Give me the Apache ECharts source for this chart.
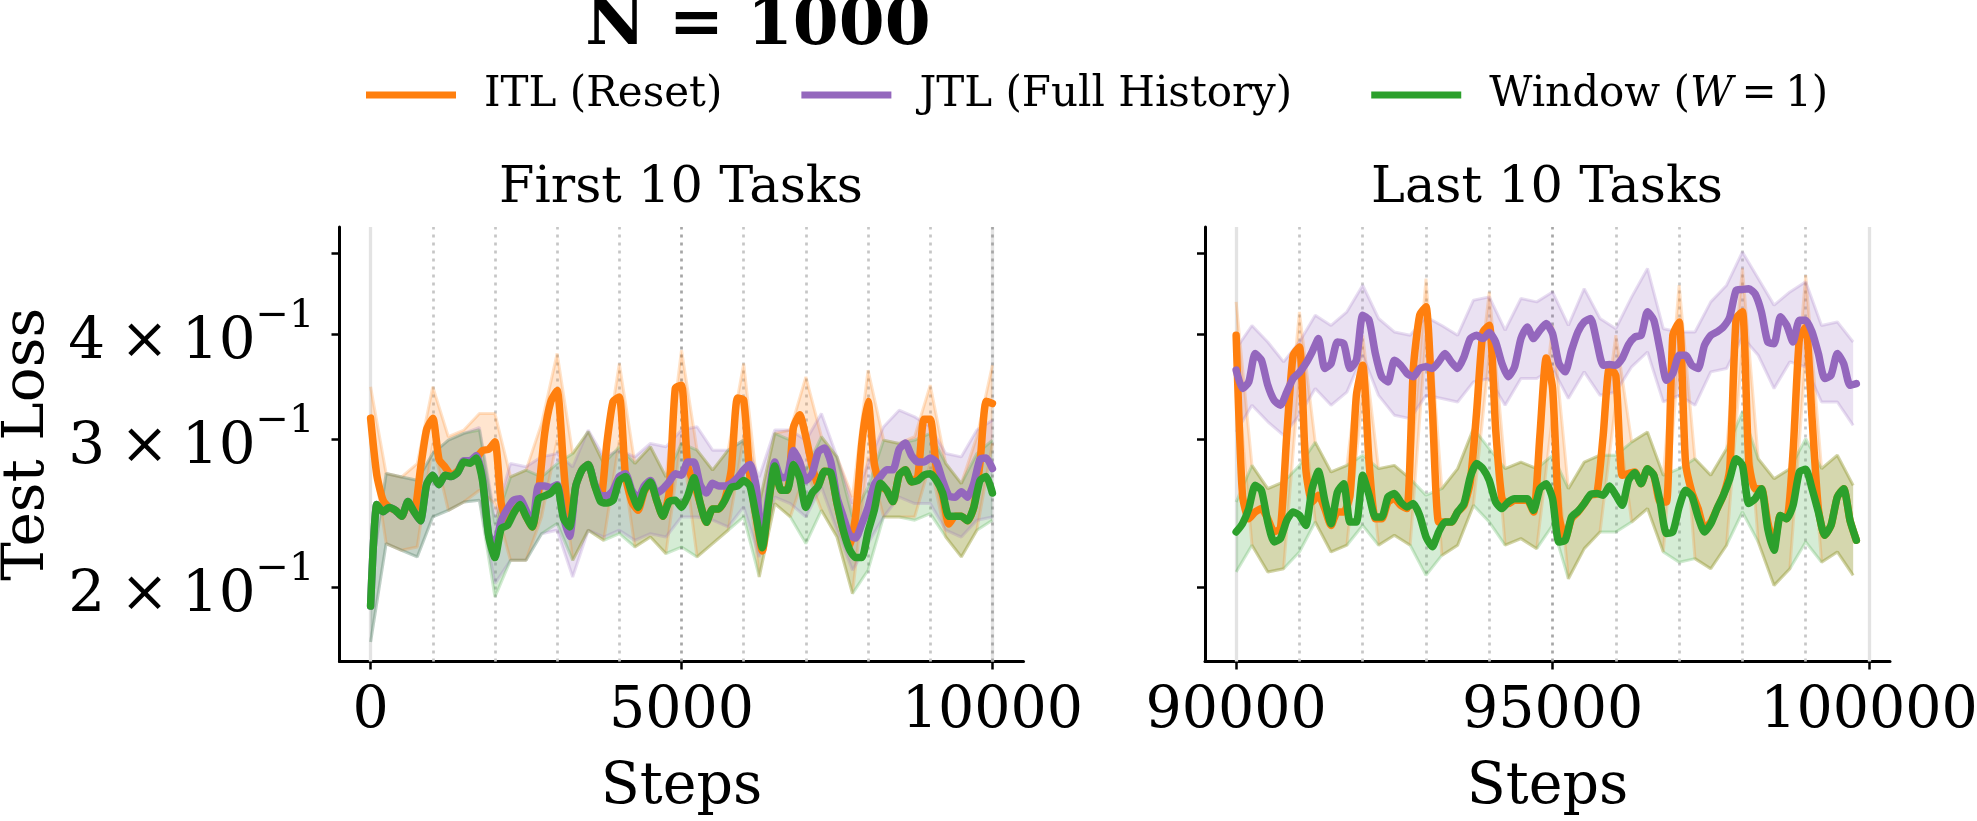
<!DOCTYPE html>
<html>
<head>
<meta charset="utf-8">
<script src="https://cdn.jsdelivr.net/npm/echarts@6/dist/echarts.min.js"></script>
<style>
  html, body { margin: 0; padding: 0; background: #fff; }
  #chart { width: 1977px; height: 821px; }
</style>
</head>
<body>
<div id="chart"></div>
<script>
// sample grids (steps)
var firstStart = 0, lastStart = 90000, lineGap = 100, bandGap = 250

// ---- First 10 Tasks: mean curves, one value every 100 steps ----
var itlFirst = [
  0.318, 0.272, 0.254, 0.249, 0.247, 0.243, 0.252, 0.246, 0.276, 0.308,
  0.318, 0.284, 0.278, 0.272, 0.275, 0.282, 0.282, 0.285, 0.291, 0.292,
  0.298, 0.252, 0.239, 0.246, 0.251, 0.243, 0.236, 0.259, 0.305, 0.333,
  0.343, 0.281, 0.236, 0.264, 0.276, 0.280, 0.265, 0.255, 0.297, 0.333,
  0.337, 0.271, 0.253, 0.247, 0.260, 0.267, 0.254, 0.243, 0.259, 0.345,
  0.348, 0.279, 0.266, 0.252, 0.239, 0.248, 0.248, 0.255, 0.276, 0.336,
  0.334, 0.271, 0.243, 0.221, 0.252, 0.279, 0.261, 0.261, 0.310, 0.321,
  0.302, 0.279, 0.265, 0.275, 0.274, 0.252, 0.234, 0.224, 0.243, 0.297,
  0.333, 0.281, 0.264, 0.261, 0.253, 0.272, 0.276, 0.267, 0.271, 0.317,
  0.317, 0.276, 0.257, 0.238, 0.243, 0.243, 0.240, 0.249, 0.281, 0.333,
  0.331
]
var jtlFirst = [
  0.190, 0.251, 0.246, 0.249, 0.247, 0.243, 0.253, 0.246, 0.240, 0.265,
  0.272, 0.265, 0.272, 0.271, 0.274, 0.283, 0.283, 0.287, 0.270, 0.231,
  0.225, 0.240, 0.248, 0.254, 0.255, 0.247, 0.237, 0.264, 0.264, 0.263,
  0.265, 0.243, 0.230, 0.264, 0.276, 0.280, 0.266, 0.257, 0.257, 0.261,
  0.271, 0.273, 0.261, 0.255, 0.264, 0.268, 0.259, 0.262, 0.267, 0.273,
  0.272, 0.282, 0.282, 0.265, 0.259, 0.266, 0.264, 0.264, 0.266, 0.270,
  0.276, 0.280, 0.264, 0.226, 0.256, 0.282, 0.270, 0.271, 0.291, 0.282,
  0.268, 0.273, 0.290, 0.293, 0.282, 0.256, 0.243, 0.231, 0.229, 0.238,
  0.249, 0.265, 0.271, 0.276, 0.276, 0.292, 0.297, 0.287, 0.282, 0.282,
  0.285, 0.282, 0.268, 0.257, 0.256, 0.260, 0.256, 0.266, 0.284, 0.285,
  0.277
]
var winFirst = [
  0.190, 0.251, 0.246, 0.249, 0.247, 0.243, 0.253, 0.246, 0.240, 0.265,
  0.272, 0.265, 0.272, 0.271, 0.274, 0.282, 0.281, 0.285, 0.268, 0.230,
  0.217, 0.235, 0.237, 0.245, 0.251, 0.243, 0.236, 0.255, 0.257, 0.259,
  0.264, 0.242, 0.236, 0.264, 0.276, 0.280, 0.265, 0.253, 0.252, 0.254,
  0.268, 0.271, 0.259, 0.249, 0.261, 0.267, 0.254, 0.243, 0.253, 0.254,
  0.249, 0.257, 0.270, 0.252, 0.239, 0.248, 0.248, 0.254, 0.263, 0.264,
  0.268, 0.264, 0.243, 0.223, 0.252, 0.279, 0.261, 0.261, 0.280, 0.270,
  0.249, 0.259, 0.264, 0.275, 0.274, 0.252, 0.234, 0.222, 0.217, 0.217,
  0.233, 0.247, 0.266, 0.261, 0.253, 0.272, 0.276, 0.267, 0.268, 0.272,
  0.273, 0.268, 0.259, 0.243, 0.243, 0.243, 0.240, 0.249, 0.268, 0.271,
  0.259
]

// ---- First 10 Tasks: shaded bands, one value every 250 steps ----
var itlFirstLo = [0.2994, 0.2255, 0.2214, 0.2234, 0.2967, 0.2470, 0.2527, 0.2610, 0.2516, 0.2154, 0.2154, 0.2426, 0.2994, 0.2154, 0.2339, 0.2275, 0.2994, 0.2234, 0.2296, 0.2194, 0.3022, 0.2174, 0.2255, 0.2339, 0.3022, 0.2058, 0.2516, 0.2426, 0.2758, 0.2470, 0.2296, 0.1966, 0.2860, 0.2426, 0.2426, 0.2426, 0.2808, 0.2296, 0.2174, 0.2339, 0.2967]
var itlFirstHi = [0.3465, 0.2732, 0.2707, 0.2808, 0.3465, 0.3022, 0.3078, 0.3220, 0.3220, 0.2707, 0.2758, 0.3134, 0.3797, 0.2886, 0.3064, 0.2808, 0.3694, 0.2808, 0.2940, 0.2707, 0.3832, 0.2913, 0.2758, 0.2913, 0.3694, 0.2516, 0.3050, 0.3078, 0.3561, 0.3022, 0.2860, 0.2562, 0.3627, 0.2994, 0.2967, 0.3022, 0.3481, 0.2808, 0.2658, 0.3022, 0.3677]
var jtlFirstLo = [0.1722, 0.2255, 0.2214, 0.2174, 0.2426, 0.2470, 0.2527, 0.2539, 0.2021, 0.2154, 0.2154, 0.2317, 0.2339, 0.2058, 0.2339, 0.2296, 0.2339, 0.2275, 0.2317, 0.2296, 0.2426, 0.2426, 0.2404, 0.2360, 0.2494, 0.2174, 0.2562, 0.2516, 0.2426, 0.2634, 0.2339, 0.2096, 0.2255, 0.2426, 0.2562, 0.2516, 0.2516, 0.2339, 0.2296, 0.2404, 0.2426]
var jtlFirstHi = [0.2039, 0.2732, 0.2707, 0.2683, 0.2886, 0.2994, 0.3050, 0.3100, 0.2426, 0.2808, 0.2783, 0.2860, 0.2886, 0.2783, 0.3078, 0.2860, 0.2913, 0.2860, 0.2967, 0.2940, 0.3078, 0.3106, 0.2913, 0.2913, 0.2994, 0.2707, 0.3078, 0.3078, 0.2994, 0.3220, 0.2860, 0.2516, 0.2808, 0.3106, 0.3250, 0.3191, 0.3106, 0.2886, 0.2860, 0.3078, 0.3162]
var winFirstLo = [0.1722, 0.2255, 0.2214, 0.2174, 0.2426, 0.2470, 0.2527, 0.2539, 0.1948, 0.2154, 0.2154, 0.2317, 0.2382, 0.2154, 0.2339, 0.2275, 0.2317, 0.2234, 0.2296, 0.2194, 0.2234, 0.2174, 0.2255, 0.2339, 0.2426, 0.2058, 0.2516, 0.2426, 0.2255, 0.2470, 0.2296, 0.1966, 0.2096, 0.2426, 0.2426, 0.2404, 0.2448, 0.2296, 0.2174, 0.2339, 0.2404]
var winFirstHi = [0.2039, 0.2732, 0.2707, 0.2683, 0.2886, 0.2994, 0.3050, 0.3078, 0.2382, 0.2707, 0.2758, 0.2707, 0.2808, 0.2886, 0.3064, 0.2808, 0.2940, 0.2808, 0.2940, 0.2707, 0.2967, 0.2913, 0.2758, 0.2913, 0.2994, 0.2516, 0.3050, 0.2994, 0.2758, 0.3022, 0.2860, 0.2426, 0.2634, 0.2994, 0.2967, 0.2994, 0.3050, 0.2808, 0.2658, 0.2886, 0.2994]

// ---- Last 10 Tasks: mean curves, one value every 100 steps from 90000 ----
var itlLast = [
  0.3990, 0.2575, 0.2414, 0.2459, 0.2482, 0.2414, 0.2330, 0.2350, 0.3034, 0.3777,
  0.3865, 0.2769, 0.2527, 0.2575, 0.2482, 0.2370, 0.2459, 0.2459, 0.2575, 0.3385,
  0.3676, 0.2819, 0.2414, 0.2414, 0.2527, 0.2550, 0.2504, 0.2482, 0.3643, 0.4216,
  0.4316, 0.3264, 0.2392, 0.2392, 0.2392, 0.2459, 0.2504, 0.2670, 0.3235, 0.4027,
  0.4101, 0.3090, 0.2550, 0.2516, 0.2539, 0.2539, 0.2539, 0.2459, 0.3034, 0.3750,
  0.3450, 0.2436, 0.2286, 0.2414, 0.2459, 0.2516, 0.2575, 0.2586, 0.3034, 0.3660,
  0.3570, 0.2719, 0.2732, 0.2744, 0.2657, 0.2769, 0.2719, 0.2527, 0.2527, 0.3990,
  0.4139, 0.2819, 0.2597, 0.2482, 0.2349, 0.2392, 0.2482, 0.2575, 0.2769, 0.4178,
  0.4255, 0.2819, 0.2621, 0.2621, 0.2392, 0.2244, 0.2436, 0.2414, 0.2898, 0.3954,
  0.4083, 0.3176, 0.2482, 0.2307, 0.2370, 0.2563, 0.2621, 0.2403, 0.2276
]
var jtlLast = [
  0.3627, 0.3449, 0.3512, 0.3795, 0.3727, 0.3480, 0.3339, 0.3294, 0.3415, 0.3545,
  0.3604, 0.3693, 0.3812, 0.3954, 0.3643, 0.3693, 0.3918, 0.3900, 0.3643, 0.3727,
  0.4216, 0.4159, 0.3795, 0.3561, 0.3512, 0.3727, 0.3676, 0.3594, 0.3561, 0.3643,
  0.3660, 0.3643, 0.3710, 0.3795, 0.3710, 0.3643, 0.3761, 0.3954, 0.3990, 0.3954,
  0.4020, 0.3918, 0.3693, 0.3561, 0.3660, 0.3954, 0.4083, 0.3954, 0.4046, 0.4120,
  0.4008, 0.3693, 0.3610, 0.3830, 0.4027, 0.4139, 0.4178, 0.3918, 0.3676, 0.3683,
  0.3676, 0.3744, 0.3889, 0.3972, 0.3990, 0.4255, 0.4159, 0.3830, 0.3528, 0.3594,
  0.3778, 0.3778, 0.3676, 0.3643, 0.3882, 0.3990, 0.4027, 0.4083, 0.4197, 0.4513,
  0.4525, 0.4533, 0.4470, 0.4255, 0.3918, 0.3900, 0.4197, 0.4101, 0.3918, 0.4159,
  0.4159, 0.4027, 0.3795, 0.3545, 0.3577, 0.3795, 0.3693, 0.3480, 0.3496
]
var winLast = [
  0.2328, 0.2381, 0.2482, 0.2645, 0.2609, 0.2392, 0.2265, 0.2286, 0.2403, 0.2459,
  0.2436, 0.2370, 0.2621, 0.2749, 0.2539, 0.2381, 0.2597, 0.2657, 0.2392, 0.2392,
  0.2719, 0.2575, 0.2425, 0.2425, 0.2563, 0.2586, 0.2527, 0.2493, 0.2516, 0.2436,
  0.2297, 0.2235, 0.2328, 0.2392, 0.2392, 0.2459, 0.2516, 0.2707, 0.2808, 0.2769,
  0.2682, 0.2527, 0.2482, 0.2527, 0.2550, 0.2550, 0.2550, 0.2470, 0.2621, 0.2657,
  0.2550, 0.2265, 0.2276, 0.2425, 0.2463, 0.2516, 0.2580, 0.2586, 0.2575, 0.2640,
  0.2575, 0.2504, 0.2682, 0.2738, 0.2657, 0.2769, 0.2719, 0.2527, 0.2318, 0.2328,
  0.2493, 0.2609, 0.2570, 0.2425, 0.2328, 0.2381, 0.2482, 0.2575, 0.2694, 0.2845,
  0.2794, 0.2516, 0.2550, 0.2621, 0.2349, 0.2214, 0.2436, 0.2414, 0.2504, 0.2744,
  0.2764, 0.2621, 0.2459, 0.2307, 0.2370, 0.2563, 0.2621, 0.2403, 0.2276
]

// ---- Last 10 Tasks: shaded bands, one value every 250 steps from 90000 ----
var itlLastLo = [0.3710, 0.2245, 0.2086, 0.2105, 0.3577, 0.2392, 0.2204, 0.2245, 0.3385, 0.2245, 0.2307, 0.2245, 0.3990, 0.2183, 0.2245, 0.2504, 0.3778, 0.2245, 0.2286, 0.2224, 0.3200, 0.2048, 0.2224, 0.2328, 0.3324, 0.2392, 0.2482, 0.2204, 0.3812, 0.2164, 0.2105, 0.2245, 0.3882, 0.2265, 0.2011, 0.2105, 0.3778, 0.2143, 0.2204, 0.2067]
var itlLastHi = [0.4373, 0.2794, 0.2621, 0.2670, 0.4255, 0.2978, 0.2744, 0.2794, 0.3990, 0.2769, 0.2794, 0.2694, 0.4662, 0.2621, 0.2769, 0.3090, 0.4494, 0.2769, 0.2819, 0.2769, 0.4100, 0.2621, 0.2819, 0.2873, 0.3990, 0.2978, 0.3062, 0.2719, 0.4577, 0.2845, 0.2719, 0.2925, 0.4792, 0.2845, 0.2694, 0.2769, 0.4705, 0.2769, 0.2873, 0.2645]
var jtlLastLo = [0.3062, 0.3294, 0.3148, 0.3034, 0.3206, 0.3449, 0.3294, 0.3415, 0.3778, 0.3385, 0.3206, 0.3176, 0.3385, 0.3355, 0.3324, 0.3512, 0.3545, 0.3294, 0.3545, 0.3545, 0.3643, 0.3355, 0.3610, 0.3385, 0.3415, 0.3660, 0.3812, 0.3324, 0.3385, 0.3294, 0.3610, 0.3643, 0.3972, 0.3778, 0.3449, 0.3710, 0.3660, 0.3324, 0.3324, 0.3118]
var jtlLastHi = [0.3848, 0.4099, 0.3918, 0.3710, 0.3918, 0.4216, 0.4099, 0.4255, 0.4577, 0.4178, 0.4027, 0.3990, 0.4197, 0.4099, 0.3990, 0.4393, 0.4433, 0.4046, 0.4413, 0.4373, 0.4494, 0.4099, 0.4535, 0.4178, 0.4063, 0.4433, 0.4792, 0.4063, 0.4027, 0.4027, 0.4373, 0.4577, 0.5014, 0.4662, 0.4334, 0.4494, 0.4621, 0.4099, 0.4139, 0.3918]
var winLastLo = [0.2086, 0.2245, 0.2086, 0.2105, 0.2204, 0.2392, 0.2204, 0.2245, 0.2370, 0.2245, 0.2307, 0.2245, 0.2067, 0.2183, 0.2245, 0.2504, 0.2392, 0.2245, 0.2286, 0.2224, 0.2370, 0.2048, 0.2224, 0.2328, 0.2328, 0.2392, 0.2482, 0.2204, 0.2143, 0.2164, 0.2105, 0.2245, 0.2459, 0.2265, 0.2011, 0.2105, 0.2265, 0.2143, 0.2204, 0.2067]
var winLastHi = [0.2527, 0.2794, 0.2621, 0.2670, 0.2794, 0.2978, 0.2744, 0.2794, 0.2873, 0.2769, 0.2794, 0.2694, 0.2575, 0.2621, 0.2769, 0.3090, 0.2925, 0.2769, 0.2819, 0.2769, 0.2873, 0.2621, 0.2819, 0.2873, 0.2873, 0.2978, 0.3062, 0.2719, 0.2769, 0.2845, 0.2719, 0.2925, 0.3235, 0.2845, 0.2694, 0.2769, 0.3006, 0.2769, 0.2873, 0.2645]

// ---- axes ----
var yTicks = [0.2, 0.3, 0.4, 0.5]
var yTickMant = ['2', '3', '4', '']
var xTicksFirst = [0, 5000, 10000]
var xTicksLast = [90000, 95000, 100000]
var tasksFirst = [1000, 2000, 3000, 4000, 6000, 7000, 8000, 9000]
var tasksLast = [91000, 92000, 93000, 94000, 96000, 97000, 98000, 99000]
var midFirst = [5000, 10000], midLast = [95000]
var phaseFirst = [0, 10000], phaseLast = [90000, 100000]

var seriesNames = ['ITL (Reset)', 'JTL (Full History)', 'Window (W = 1)']
var colors = ['#ff7f0e', '#9467bd', '#2ca02c']
var fills = ['rgba(255,127,14,0.2)', 'rgba(148,103,189,0.2)', 'rgba(44,160,44,0.2)']
var font = 'DejaVu Serif'

// log axis done by hand so 2,3,4 x 10^-1 can be placed as ticks
function ly(v) { return Math.log10(v * 10) }
var yMin = ly(0.16325), yMax = ly(0.53685)

function pairs(start, gap, arr) {
  return arr.map(function (v, i) { return [start + i * gap, ly(v)] })
}

function bandFill(gi, start, lo, hi, color) {
  return {
    type: 'custom', xAxisIndex: gi, yAxisIndex: gi, silent: true, z: 2,
    data: [[start, ly(lo[0])]],
    renderItem: function (params, api) {
      var pts = []
      for (var i = 0; i < hi.length; i++) pts.push(api.coord([start + i * bandGap, ly(hi[i])]))
      for (var j = lo.length - 1; j >= 0; j--) pts.push(api.coord([start + j * bandGap, ly(lo[j])]))
      return { type: 'polygon', shape: { points: pts }, style: { fill: color } }
    }
  }
}

function bandEdge(gi, start, arr, color) {
  return {
    type: 'line', xAxisIndex: gi, yAxisIndex: gi, silent: true, z: 2,
    symbol: 'none', data: pairs(start, bandGap, arr),
    lineStyle: { color: color, width: 3, opacity: 0.22 }
  }
}

function mainLine(gi, idx, start, arr) {
  return {
    name: seriesNames[idx], type: 'line', xAxisIndex: gi, yAxisIndex: gi, z: 4,
    symbol: 'none', smooth: 0.2, data: pairs(start, lineGap, arr),
    itemStyle: { color: colors[idx] },
    lineStyle: { color: colors[idx], width: 7.5, join: 'round', cap: 'round' }
  }
}

function vLines(gi, tasks, mids, phases) {
  var data = []
  phases.forEach(function (x) { data.push({ xAxis: x, lineStyle: { color: '#e3e3e3', width: 3.3, type: 'solid' } }) })
  tasks.forEach(function (x) { data.push({ xAxis: x, lineStyle: { color: '#c6c6c6', width: 2.7, type: [3, 5] } }) })
  mids.forEach(function (x) { data.push({ xAxis: x, lineStyle: { color: '#a6a6a6', width: 2.7, type: [3, 5] } }) })
  return {
    type: 'line', xAxisIndex: gi, yAxisIndex: gi, data: [], z: 1, silent: true,
    markLine: { z: 1, silent: true, symbol: ['none', 'none'], label: { show: false }, animation: false, data: data }
  }
}

function xAxisOpt(gi, min, max, ticks) {
  return {
    gridIndex: gi, type: 'value', min: min, max: max,
    splitLine: { show: false },
    axisLine: { onZero: false, lineStyle: { color: '#000', width: 3 } },
    axisTick: { customValues: ticks, length: 8, lineStyle: { color: '#000', width: 2.5 } },
    axisLabel: {
      customValues: ticks, color: '#000', fontFamily: font, fontSize: 57, margin: 22,
      formatter: function (v) { return String(v) }
    },
    name: 'Steps', nameLocation: 'middle', nameGap: 98,
    nameTextStyle: { color: '#000', fontFamily: font, fontSize: 57 }
  }
}

// "m × 10^-1" built from pieces with spacers, like matplotlib's mathtext
var yTickVals = yTicks.map(ly)
function yAxisOpt(gi, showLabel) {
  var big = { fontFamily: font, fontSize: 58, color: '#000', align: 'left', verticalAlign: 'bottom', lineHeight: 76 }
  var o = {
    gridIndex: gi, type: 'value', min: yMin, max: yMax,
    splitLine: { show: false },
    axisLine: { show: true, onZero: false, lineStyle: { color: '#000', width: 3 } },
    axisTick: { customValues: yTickVals, length: 8, lineStyle: { color: '#000', width: 2.5 } },
    axisLabel: {
      show: showLabel, customValues: yTickVals, margin: 25,
      color: '#000', fontFamily: font, fontSize: 58,
      formatter: function (val) {
        var i = yTickVals.findIndex(function (t) { return Math.abs(t - val) < 1e-6 })
        if (i < 0 || !yTickMant[i]) return ''
        return '{m|' + yTickMant[i] + '}{g1| }{m|\u00d7}{g2| }{m|10}{s|\u22121}'
      },
      rich: {
        m: big,
        g1: Object.assign({}, big, { width: 15 }),
        g2: Object.assign({}, big, { width: 13 }),
        s: { fontFamily: font, fontSize: 40, color: '#000', align: 'left', lineHeight: 44, verticalAlign: 'top' }
      }
    }
  }
  if (showLabel) {
    o.name = 'Test Loss'
    o.nameLocation = 'middle'
    o.nameGap = 283
    o.nameTextStyle = { color: '#000', fontFamily: font, fontSize: 58 }
  }
  return o
}

var series = [
  vLines(0, tasksFirst, midFirst, phaseFirst),
  vLines(1, tasksLast, midLast, phaseLast),
  bandFill(0, firstStart, itlFirstLo, itlFirstHi, fills[0]),
  bandFill(0, firstStart, jtlFirstLo, jtlFirstHi, fills[1]),
  bandFill(0, firstStart, winFirstLo, winFirstHi, fills[2]),
  bandFill(1, lastStart, itlLastLo, itlLastHi, fills[0]),
  bandFill(1, lastStart, jtlLastLo, jtlLastHi, fills[1]),
  bandFill(1, lastStart, winLastLo, winLastHi, fills[2]),
  bandEdge(0, firstStart, itlFirstLo, colors[0]), bandEdge(0, firstStart, itlFirstHi, colors[0]),
  bandEdge(0, firstStart, jtlFirstLo, colors[1]), bandEdge(0, firstStart, jtlFirstHi, colors[1]),
  bandEdge(0, firstStart, winFirstLo, colors[2]), bandEdge(0, firstStart, winFirstHi, colors[2]),
  bandEdge(1, lastStart, itlLastLo, colors[0]), bandEdge(1, lastStart, itlLastHi, colors[0]),
  bandEdge(1, lastStart, jtlLastLo, colors[1]), bandEdge(1, lastStart, jtlLastHi, colors[1]),
  bandEdge(1, lastStart, winLastLo, colors[2]), bandEdge(1, lastStart, winLastHi, colors[2]),
  mainLine(0, 0, firstStart, itlFirst),
  mainLine(0, 1, firstStart, jtlFirst),
  mainLine(0, 2, firstStart, winFirst),
  mainLine(1, 0, lastStart, itlLast),
  mainLine(1, 1, lastStart, jtlLast),
  mainLine(1, 2, lastStart, winLast)
]

var chart = echarts.init(document.getElementById('chart'))
chart.setOption({
  animation: false,
  backgroundColor: '#fff',
  textStyle: { fontFamily: font },
  title: [
    { text: 'N = 1000', left: 758, top: -6, padding: 0, textAlign: 'center',
      textStyle: { fontFamily: font, fontSize: 66, fontWeight: 'bold', color: '#000' } },
    { text: 'First 10 Tasks', left: 681, top: 163, padding: 0, textAlign: 'center',
      textStyle: { fontFamily: font, fontSize: 51, fontWeight: 'normal', color: '#000' } },
    { text: 'Last 10 Tasks', left: 1547, top: 163, padding: 0, textAlign: 'center',
      textStyle: { fontFamily: font, fontSize: 51, fontWeight: 'normal', color: '#000' } }
  ],
  legend: {
    left: 366, top: 74, padding: 0, itemGap: 79, itemWidth: 90, itemHeight: 7,
    selectedMode: false,
    data: seriesNames.map(function (n) { return { name: n, icon: 'rect' } }),
    itemStyle: { borderWidth: 0 },
    formatter: function (name) {
      if (name === seriesNames[2]) return '{n|Window (}{i|W}{n|\u2009=\u20091)}'
      return name
    },
    textStyle: {
      fontFamily: font, fontSize: 42, color: '#000', padding: [0, 0, 0, 23],
      rich: {
        n: { fontFamily: font, fontSize: 42, color: '#000' },
        i: { fontFamily: font, fontSize: 42, color: '#000', fontStyle: 'italic' }
      }
    }
  },
  grid: [
    { left: 339.5, top: 227, width: 684, height: 434.5, outerBoundsMode: 'none' },
    { left: 1205, top: 227, width: 685, height: 434.5, outerBoundsMode: 'none' }
  ],
  xAxis: [
    xAxisOpt(0, -500, 10500, xTicksFirst),
    xAxisOpt(1, 89508, 100332, xTicksLast)
  ],
  yAxis: [
    yAxisOpt(0, true),
    yAxisOpt(1, false)
  ],
  series: series
})
</script>
</body>
</html>
